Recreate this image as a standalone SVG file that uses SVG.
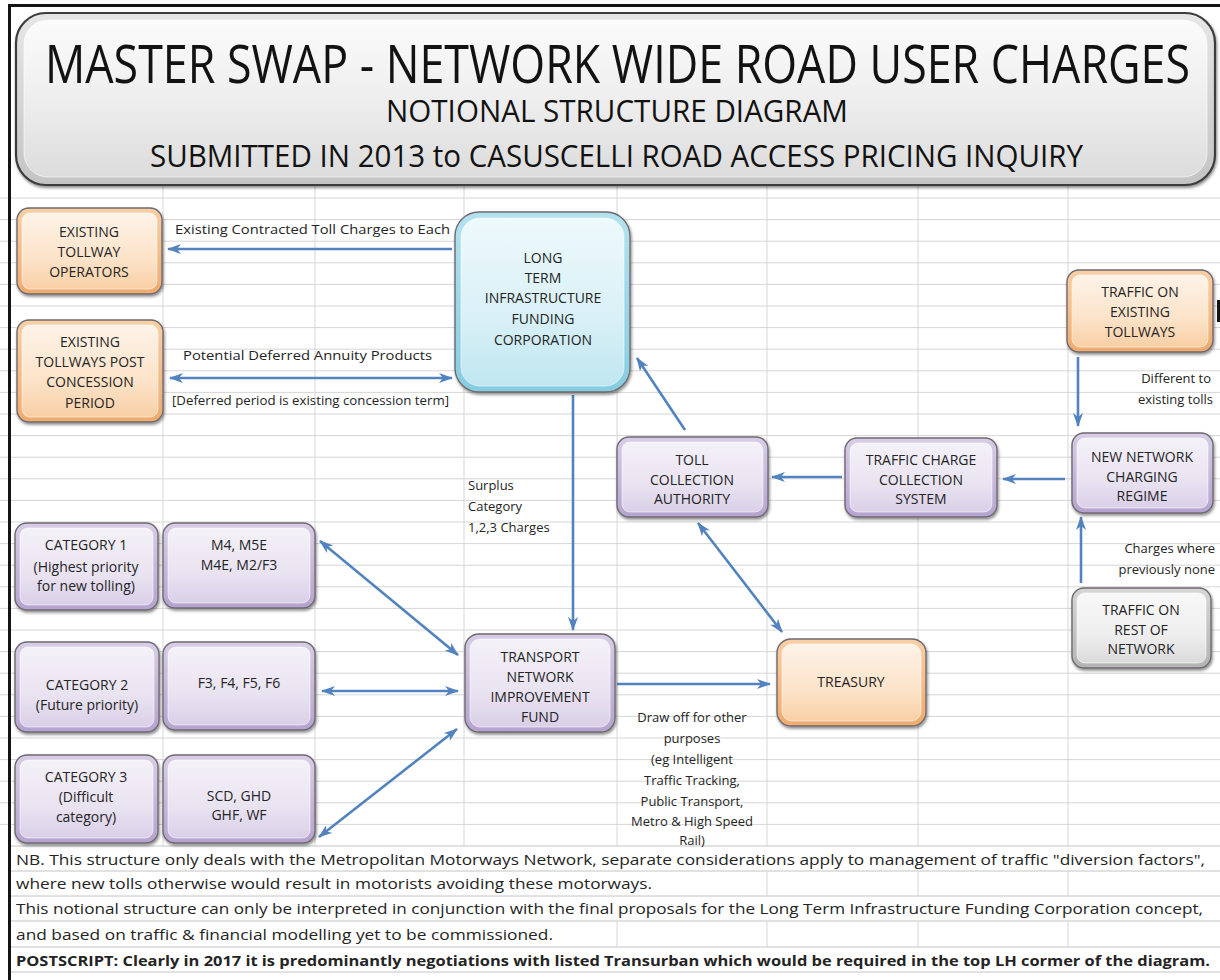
<svg xmlns="http://www.w3.org/2000/svg" width="1220" height="980" viewBox="0 0 1220 980">
  <defs>
    <style>
      .grid { stroke: #d6d6d6; stroke-width: 1; fill: none; }
      .frame { fill: #141414; }
      .t { font-family: "Open Sans", "Liberation Sans", sans-serif; fill: #242424; }
      .node { font-size: 14px; text-anchor: middle; }
      .lbl { font-size: 13px; }
      .mid { text-anchor: middle; }
      .end { text-anchor: end; }
      .note { font-size: 15px; }
      .title { fill: #121212; text-anchor: start; }
      .edge { stroke: #5283bf; stroke-width: 2.6; fill: none; }
      .edge1 { marker-end: url(#arr); }
      .edge2 { marker-start: url(#arr); marker-end: url(#arr); }
      .outer { stroke: #6f6a70; stroke-width: 1.4; filter: url(#shadow); }
      .inner { stroke: #ffffff; stroke-opacity: 0.55; stroke-width: 1; }
      .o-out { fill: url(#orangeOut); }
      .o-in { fill: url(#orangeIn); }
      .p-out { fill: url(#purpleOut); }
      .p-in { fill: url(#purpleIn); }
      .b-out { fill: url(#blueOut); }
      .b-in { fill: url(#blueIn); }
      .g-out { fill: url(#greyOut); }
      .g-in { fill: url(#greyIn); }
    </style>
    <filter id="shadow" x="-10%" y="-10%" width="125%" height="130%">
      <feDropShadow dx="1" dy="2" stdDeviation="1.6" flood-color="#000" flood-opacity="0.45"/>
    </filter>
    <marker id="arr" viewBox="0 0 14 10" refX="13" refY="5" markerWidth="14" markerHeight="10" markerUnits="userSpaceOnUse" orient="auto-start-reverse">
      <path d="M0,0 L14,5 L0,10 L4,5 z" fill="#5283bf"/>
    </marker>
    <linearGradient id="orangeOut" x1="0" y1="0" x2="0" y2="1">
      <stop offset="0" stop-color="#f8cfa6"/>
      <stop offset="1" stop-color="#efaa6c"/>
    </linearGradient>
    <linearGradient id="orangeIn" x1="0" y1="0" x2="0" y2="1">
      <stop offset="0" stop-color="#fdf3e8"/>
      <stop offset="0.6" stop-color="#fce3c9"/>
      <stop offset="1" stop-color="#f8cfa5"/>
    </linearGradient>
    <linearGradient id="purpleOut" x1="0" y1="0" x2="0" y2="1">
      <stop offset="0" stop-color="#d7cde6"/>
      <stop offset="1" stop-color="#b5a3cf"/>
    </linearGradient>
    <linearGradient id="purpleIn" x1="0" y1="0" x2="0" y2="1">
      <stop offset="0" stop-color="#f4f1f8"/>
      <stop offset="0.6" stop-color="#e9e3f1"/>
      <stop offset="1" stop-color="#d9cfe7"/>
    </linearGradient>
    <linearGradient id="blueOut" x1="0" y1="0" x2="0" y2="1">
      <stop offset="0" stop-color="#b3e2ee"/>
      <stop offset="1" stop-color="#86cce0"/>
    </linearGradient>
    <linearGradient id="blueIn" x1="0" y1="0" x2="0" y2="1">
      <stop offset="0" stop-color="#eef9fc"/>
      <stop offset="0.6" stop-color="#d8f0f6"/>
      <stop offset="1" stop-color="#bfe6f0"/>
    </linearGradient>
    <linearGradient id="greyOut" x1="0" y1="0" x2="0" y2="1">
      <stop offset="0" stop-color="#d6d6d6"/>
      <stop offset="1" stop-color="#b3b3b3"/>
    </linearGradient>
    <linearGradient id="greyIn" x1="0" y1="0" x2="0" y2="1">
      <stop offset="0" stop-color="#f8f8f8"/>
      <stop offset="0.6" stop-color="#eeeeee"/>
      <stop offset="1" stop-color="#dadada"/>
    </linearGradient>
    <linearGradient id="titleOut" x1="0" y1="0" x2="0" y2="1">
      <stop offset="0" stop-color="#e6e6e6"/>
      <stop offset="1" stop-color="#c4c4c4"/>
    </linearGradient>
    <linearGradient id="titleIn" x1="0" y1="0" x2="0" y2="1">
      <stop offset="0" stop-color="#fbfbfb"/>
      <stop offset="0.5" stop-color="#eeeeee"/>
      <stop offset="1" stop-color="#dcdcdc"/>
    </linearGradient>
  </defs>

  <!-- sheet background -->
  <rect x="0" y="0" width="1220" height="980" fill="#ffffff"/>

  <!-- spreadsheet cell grid -->
  <g id="grid" class="grid">
    <path d="M0,198H1220 M0,219.6H1220 M0,241.2H1220 M0,262.8H1220 M0,284.4H1220 M0,306H1220 M0,327.6H1220 M0,349.2H1220 M0,370.8H1220 M0,392.4H1220 M0,414H1220 M0,435.6H1220 M0,457.2H1220 M0,478.8H1220 M0,500.4H1220 M0,522H1220 M0,543.6H1220 M0,565.2H1220 M0,586.8H1220 M0,608.4H1220 M0,630H1220 M0,651.6H1220 M0,673.2H1220 M0,694.8H1220 M0,716.4H1220 M0,738H1220 M0,759.6H1220 M0,781.2H1220 M0,802.8H1220 M0,824.4H1220"/>
    <path d="M163,186V846 M315,186V846 M464,186V846 M617,186V846 M767,186V846 M918,186V846 M1068,186V846"/>
    <path stroke="#c4c4c4" d="M11,846H1220 M11,871H1220 M11,896H1220 M11,921H1220 M11,947H1220 M11,972H1220"/>
    <!-- columns show only where the note text does not run across -->
    <path d="M767,871V896 M918,871V896 M1068,871V896 M617,921V947 M767,921V947 M918,921V947 M1068,921V947"/>
  </g>

  <!-- worksheet border -->
  <rect class="frame" x="8" y="4" width="1212" height="3"/>
  <rect class="frame" x="8" y="4" width="3" height="976"/>
  <rect class="frame" x="1217" y="300" width="3" height="22"/>

  <!-- heading panel -->
  <g id="title">
    <rect x="16" y="13" width="1199" height="172" rx="30" fill="url(#titleOut)" stroke="#3c3c3c" stroke-width="2.2" filter="url(#shadow)"/>
    <rect x="24" y="20" width="1183" height="157" rx="24" fill="url(#titleIn)" stroke="#ffffff" stroke-opacity="0.6"/>
    <text class="t title" transform="translate(45,83) scale(1,1.18)" x="0" y="0" font-size="45" textLength="1145" lengthAdjust="spacingAndGlyphs">MASTER SWAP - NETWORK WIDE ROAD USER CHARGES</text>
    <text class="t title" transform="translate(386,122) scale(1,1.12)" x="0" y="0" font-size="27" textLength="462" lengthAdjust="spacingAndGlyphs">NOTIONAL STRUCTURE DIAGRAM</text>
    <text class="t title" transform="translate(150,167) scale(1,1.12)" x="0" y="0" font-size="28" textLength="933" lengthAdjust="spacingAndGlyphs">SUBMITTED IN 2013 to CASUSCELLI ROAD ACCESS PRICING INQUIRY</text>
  </g>

  <!-- connectors -->
  <g id="connectors">
    <line class="edge edge1" x1="452" y1="249" x2="168" y2="249"/>
    <line class="edge edge2" x1="170" y1="378" x2="452" y2="378"/>
    <line class="edge edge1" x1="573" y1="395" x2="573" y2="630"/>
    <line class="edge edge1" x1="685" y1="430" x2="637" y2="358"/>
    <line class="edge edge1" x1="842" y1="477" x2="772" y2="477"/>
    <line class="edge edge1" x1="1065" y1="479" x2="1003" y2="479"/>
    <line class="edge edge1" x1="1078" y1="357" x2="1078" y2="426"/>
    <line class="edge edge1" x1="1081" y1="583" x2="1081" y2="517"/>
    <line class="edge edge2" x1="698" y1="523" x2="782" y2="632"/>
    <line class="edge edge2" x1="320" y1="541" x2="458" y2="655"/>
    <line class="edge edge2" x1="322" y1="691" x2="458" y2="691"/>
    <line class="edge edge2" x1="457" y1="729" x2="319" y2="837"/>
    <line class="edge edge1" x1="617" y1="684" x2="770" y2="684"/>

    <text class="t lbl" x="175" y="234" textLength="275" lengthAdjust="spacingAndGlyphs">Existing Contracted Toll Charges to Each</text>
    <text class="t lbl" x="183" y="360" textLength="249" lengthAdjust="spacingAndGlyphs">Potential Deferred Annuity Products</text>
    <text class="t lbl" x="172" y="405" textLength="277" lengthAdjust="spacingAndGlyphs">[Deferred period is existing concession term]</text>
    <text class="t lbl" x="468" y="490">Surplus</text>
    <text class="t lbl" x="468" y="511">Category</text>
    <text class="t lbl" x="468" y="532">1,2,3 Charges</text>
    <text class="t lbl end" x="1211" y="383">Different to</text>
    <text class="t lbl end" x="1213" y="404">existing tolls</text>
    <text class="t lbl end" x="1215" y="553">Charges where</text>
    <text class="t lbl end" x="1215" y="574">previously none</text>
    <text class="t lbl mid" x="692" y="722">Draw off for other</text>
    <text class="t lbl mid" x="692" y="743">purposes</text>
    <text class="t lbl mid" x="692" y="764">(eg Intelligent</text>
    <text class="t lbl mid" x="692" y="785">Traffic Tracking,</text>
    <text class="t lbl mid" x="692" y="806">Public Transport,</text>
    <text class="t lbl mid" x="692" y="826">Metro &amp; High Speed</text>
    <text class="t lbl mid" x="692" y="845">Rail)</text>
  </g>

  <!-- nodes -->
  <g id="existing-tollway-operators">
    <rect class="outer o-out" x="17" y="208" width="145" height="86" rx="12"/>
    <rect class="inner o-in" x="22" y="213" width="135" height="76" rx="8"/>
    <text class="t node" x="89" y="237">EXISTING</text>
    <text class="t node" x="89" y="257">TOLLWAY</text>
    <text class="t node" x="89" y="277">OPERATORS</text>
  </g>

  <g id="existing-tollways-post-concession">
    <rect class="outer o-out" x="17" y="320" width="146" height="102" rx="12"/>
    <rect class="inner o-in" x="22" y="325" width="136" height="92" rx="8"/>
    <text class="t node" x="90" y="347">EXISTING</text>
    <text class="t node" x="90" y="367">TOLLWAYS POST</text>
    <text class="t node" x="90" y="387">CONCESSION</text>
    <text class="t node" x="90" y="408">PERIOD</text>
  </g>

  <g id="long-term-infrastructure-funding-corporation">
    <rect class="outer b-out" x="455" y="212" width="175" height="180" rx="24"/>
    <rect class="inner b-in" x="461" y="218" width="163" height="168" rx="19"/>
    <text class="t node" x="543" y="263">LONG</text>
    <text class="t node" x="543" y="283">TERM</text>
    <text class="t node" x="543" y="303">INFRASTRUCTURE</text>
    <text class="t node" x="543" y="324">FUNDING</text>
    <text class="t node" x="543" y="345">CORPORATION</text>
  </g>

  <g id="traffic-on-existing-tollways">
    <rect class="outer o-out" x="1067" y="270" width="146" height="82" rx="12"/>
    <rect class="inner o-in" x="1072" y="275" width="136" height="72" rx="8"/>
    <text class="t node" x="1140" y="297">TRAFFIC ON</text>
    <text class="t node" x="1140" y="317">EXISTING</text>
    <text class="t node" x="1140" y="337">TOLLWAYS</text>
  </g>

  <g id="new-network-charging-regime">
    <rect class="outer p-out" x="1072" y="433" width="141" height="80" rx="12"/>
    <rect class="inner p-in" x="1077" y="438" width="131" height="70" rx="8"/>
    <text class="t node" x="1142" y="462">NEW NETWORK</text>
    <text class="t node" x="1142" y="482">CHARGING</text>
    <text class="t node" x="1142" y="501">REGIME</text>
  </g>

  <g id="traffic-charge-collection-system">
    <rect class="outer p-out" x="845" y="438" width="152" height="79" rx="12"/>
    <rect class="inner p-in" x="850" y="443" width="142" height="69" rx="8"/>
    <text class="t node" x="921" y="465">TRAFFIC CHARGE</text>
    <text class="t node" x="921" y="485">COLLECTION</text>
    <text class="t node" x="921" y="504">SYSTEM</text>
  </g>

  <g id="toll-collection-authority">
    <rect class="outer p-out" x="617" y="437" width="151" height="80" rx="12"/>
    <rect class="inner p-in" x="622" y="442" width="141" height="70" rx="8"/>
    <text class="t node" x="692" y="465">TOLL</text>
    <text class="t node" x="692" y="485">COLLECTION</text>
    <text class="t node" x="692" y="504">AUTHORITY</text>
  </g>

  <g id="traffic-on-rest-of-network">
    <rect class="outer g-out" x="1072" y="588" width="139" height="80" rx="12"/>
    <rect class="inner g-in" x="1077" y="593" width="129" height="70" rx="8"/>
    <text class="t node" x="1141" y="615">TRAFFIC ON</text>
    <text class="t node" x="1141" y="635">REST OF</text>
    <text class="t node" x="1141" y="654">NETWORK</text>
  </g>

  <g id="category-1">
    <rect class="outer p-out" x="15" y="523" width="143" height="87" rx="12"/>
    <rect class="inner p-in" x="20" y="528" width="133" height="77" rx="8"/>
    <text class="t node" x="86" y="550">CATEGORY 1</text>
    <text class="t node" x="86" y="572">(Highest priority</text>
    <text class="t node" x="86" y="591">for new tolling)</text>
  </g>

  <g id="category-1-roads">
    <rect class="outer p-out" x="163" y="523" width="152" height="85" rx="12"/>
    <rect class="inner p-in" x="168" y="528" width="142" height="75" rx="8"/>
    <text class="t node" x="239" y="550">M4, M5E</text>
    <text class="t node" x="239" y="570">M4E, M2/F3</text>
  </g>

  <g id="category-2">
    <rect class="outer p-out" x="15" y="642" width="144" height="90" rx="12"/>
    <rect class="inner p-in" x="20" y="647" width="134" height="80" rx="8"/>
    <text class="t node" x="87" y="690">CATEGORY 2</text>
    <text class="t node" x="87" y="710">(Future priority)</text>
  </g>

  <g id="category-2-roads">
    <rect class="outer p-out" x="163" y="642" width="152" height="88" rx="12"/>
    <rect class="inner p-in" x="168" y="647" width="142" height="78" rx="8"/>
    <text class="t node" x="239" y="688">F3, F4, F5, F6</text>
  </g>

  <g id="category-3">
    <rect class="outer p-out" x="15" y="755" width="143" height="88" rx="12"/>
    <rect class="inner p-in" x="20" y="760" width="133" height="78" rx="8"/>
    <text class="t node" x="86" y="782">CATEGORY 3</text>
    <text class="t node" x="86" y="802">(Difficult</text>
    <text class="t node" x="86" y="822">category)</text>
  </g>

  <g id="category-3-roads">
    <rect class="outer p-out" x="163" y="755" width="152" height="88" rx="12"/>
    <rect class="inner p-in" x="168" y="760" width="142" height="78" rx="8"/>
    <text class="t node" x="239" y="801">SCD, GHD</text>
    <text class="t node" x="239" y="820">GHF, WF</text>
  </g>

  <g id="transport-network-improvement-fund">
    <rect class="outer p-out" x="465" y="634" width="150" height="98" rx="14"/>
    <rect class="inner p-in" x="470" y="639" width="140" height="88" rx="10"/>
    <text class="t node" x="540" y="662">TRANSPORT</text>
    <text class="t node" x="540" y="682">NETWORK</text>
    <text class="t node" x="540" y="702">IMPROVEMENT</text>
    <text class="t node" x="540" y="722">FUND</text>
  </g>

  <g id="treasury">
    <rect class="outer o-out" x="777" y="639" width="149" height="87" rx="14"/>
    <rect class="inner o-in" x="782" y="644" width="139" height="77" rx="10"/>
    <text class="t node" x="851" y="687">TREASURY</text>
  </g>

  <!-- notes below the diagram -->
  <g id="notes">
    <text class="t note" x="16" y="865" textLength="1189" lengthAdjust="spacingAndGlyphs">NB. This structure only deals with the Metropolitan Motorways Network, separate considerations apply to management of traffic "diversion factors",</text>
    <text class="t note" x="16" y="889" textLength="636" lengthAdjust="spacingAndGlyphs">where new tolls otherwise would result in motorists avoiding these motorways.</text>
    <text class="t note" x="16" y="914" textLength="1187" lengthAdjust="spacingAndGlyphs">This notional structure can only be interpreted in conjunction with the final proposals for the Long Term Infrastructure Funding Corporation concept,</text>
    <text class="t note" x="16" y="940" textLength="537" lengthAdjust="spacingAndGlyphs">and based on traffic &amp;  financial modelling yet to be commissioned.</text>
    <text class="t note" x="16" y="966" font-weight="700" textLength="1194" lengthAdjust="spacingAndGlyphs">POSTSCRIPT: Clearly in 2017 it is predominantly negotiations with listed Transurban which would be required in the top LH cormer of the diagram.</text>
  </g>
</svg>
